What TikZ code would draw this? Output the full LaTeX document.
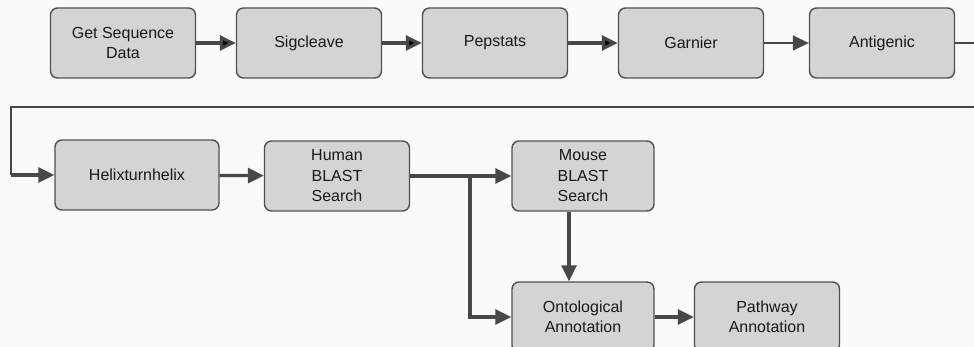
\documentclass[tikz,border=0pt]{standalone}
\usepackage{fontspec}
\setmainfont{Liberation Sans}
\usetikzlibrary{arrows.meta,positioning}

\definecolor{boxfill}{RGB}{212,212,212}
\definecolor{boxline}{RGB}{80,80,80}
\definecolor{flowline}{RGB}{72,72,72}

\begin{document}
\begin{tikzpicture}[x=1pt,y=-1pt,node distance=186pt,on grid,
    font=\fontsize{16}{20.5}\selectfont]
       \tikzstyle{tool}=[draw=boxline, line width=1.4pt, fill=boxfill, rounded corners=7pt,
                         minimum width=145pt, minimum height=70pt, align=center, text=black!90]
       \tikzstyle{flow}=[draw=flowline, line width=3.2pt, -{Triangle[length=16pt,width=15pt]}]
       \tikzstyle{thinflow}=[flow, line width=1.6pt]

       \fill[black!2] (0,0) rectangle (974,347);
       \useasboundingbox (0,0) rectangle (974,347);

       % first row
       \node[tool] (getseq) at (123,43) {Get Sequence\\Data};
       \node[tool] (sigcleave) [right of=getseq]               {Sigcleave};
       \node[tool] (pepstats)  [right of=sigcleave]            {Pepstats};
       \node[tool] (garnier)   [right of=pepstats, xshift=10pt] {Garnier};
       \node[tool] (antigenic) [right of=garnier, xshift=5pt]   {Antigenic};

       % second row
       \node[tool, minimum width=164pt] (helix) at (137,175) {Helixturnhelix};
       \node[tool] (human) at (337,176) {Human\\BLAST\\Search};
       \node[tool, minimum width=142pt] (mouse) at (583,176) {Mouse\\BLAST\\Search};
       \node[tool, minimum width=142pt] (onto)  at (583,317) {Ontological\\Annotation};
       \node[tool] (pathway) [right of=onto, xshift=-2pt] {Pathway\\Annotation};

       \coordinate (outA)  at (976,43);
       \coordinate (inB)   at (976,107);
       \coordinate (turn)  at (11,107);
       \coordinate (split) at (470,176);

       \path[flow]
       (getseq) edge (sigcleave)
       (sigcleave) edge (pepstats)
       (pepstats) edge (garnier);
       \draw[thinflow] (garnier) -- (antigenic);
       \draw[draw=flowline, line width=1.6pt] (antigenic) -- (outA);
       \draw[draw=flowline, line width=1.6pt] (inB) -- (turn) -- (turn |- helix);
       \draw[flow] (turn |- helix) -- (helix);
       \draw[flow] (helix) -- (human);
       \draw[flow] (human) -- (mouse);
       \draw[flow] (split) |- (onto);
       \draw[flow] ([xshift=-14pt]mouse.south) -- ([xshift=-14pt]onto.north);
       \draw[flow] (onto) -- (pathway);
\end{tikzpicture}
\end{document}
